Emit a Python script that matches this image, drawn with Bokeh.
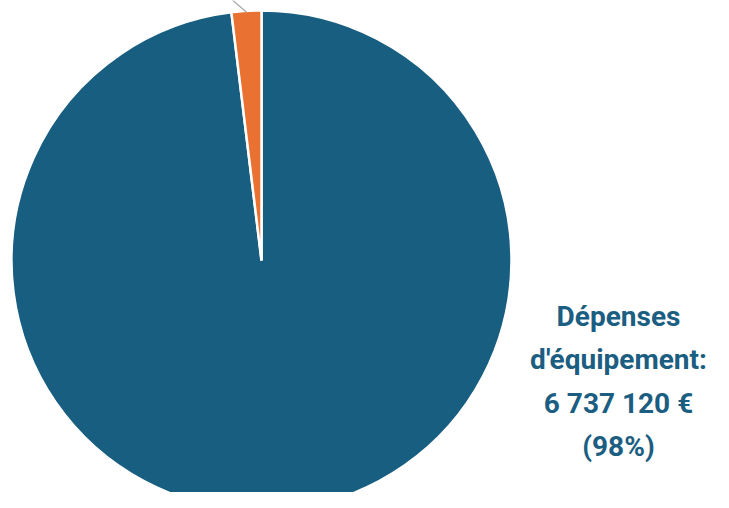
import math
from bokeh.plotting import figure
from bokeh.models import Range1d, ColumnDataSource
from bokeh.core.properties import value
from bokeh.embed import file_html
from bokeh.resources import INLINE

categories = ["Dépenses d'équipement", "Autres dépenses"]
amounts = [6737120, 132000]
colors = ["#175E80", "#E97132"]

total = sum(amounts)
fracs = [a / total for a in amounts]

start_big = math.pi / 2 - fracs[0] * 2 * math.pi
end_big = math.pi / 2
start_small = math.pi / 2
end_small = math.pi / 2 + fracs[1] * 2 * math.pi

W, H = 713, 492
p = figure(width=W, height=H, output_backend="svg", toolbar_location=None,
           x_range=Range1d(8, 8 + W), y_range=Range1d(8, 8 + H),
           min_border=0)
p.axis.visible = False
p.grid.visible = False
p.outline_line_color = None
p.background_fill_color = "white"

cx, cy, r = 269, 240, 250
src = ColumnDataSource(dict(
    start=[start_big, start_small], end=[end_big, end_small],
    color=colors, x=[cx, cx], y=[cy, cy]))
p.wedge(x="x", y="y", radius=r, start_angle="start", end_angle="end",
        fill_color="color", line_color="white", line_width=2.5, source=src)

# leader line of the small slice (its label lies outside the view)
mid = (start_small + end_small) / 2
lx0 = cx + r * math.cos(mid) * 0.995
ly0 = cy + r * math.sin(mid) * 0.995
p.line([lx0, lx0 - 30], [ly0, ly0 + 26], line_color="#A6A6A6", line_width=1.2)

def fmt(v):
    return f"{v:,}".replace(",", " ") + " €"

label = "Dépenses\nd'équipement:\n" + fmt(amounts[0]) + "\n(" + f"{round(fracs[0]*100)}%" + ")"
p.text(x=[626], y=[119], text=[label], text_align="center", text_baseline="middle",
       text_font=value("Roboto"), text_font_style="bold", text_font_size="28px",
       text_color="#1B5E82", text_line_height=1.31)

open("out.html", "w").write(file_html(p, INLINE))
